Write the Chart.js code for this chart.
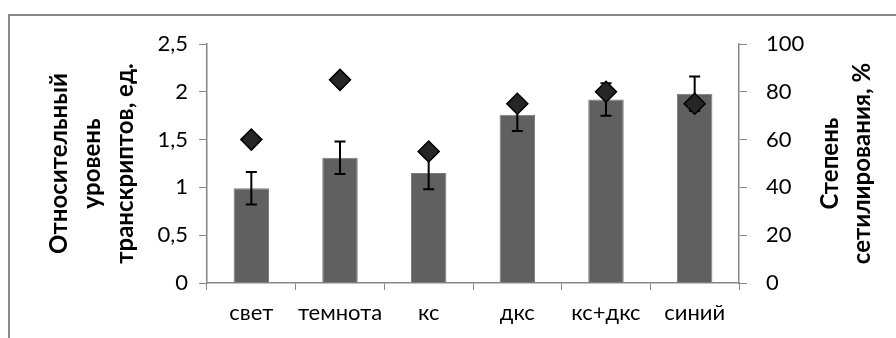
<!DOCTYPE html>
<html>
<head>
<meta charset="utf-8">
<script src="https://cdn.jsdelivr.net/npm/chart.js@4/dist/chart.umd.min.js"></script>
<style>
html,body{margin:0;padding:0;background:#fff;}
#wrap{width:896px;height:338px;position:relative;overflow:hidden;}
</style>
</head>
<body>
<div id="wrap"><canvas id="c" width="896" height="338"></canvas></div>
<script>
const categories = ['свет', 'темнота', 'кс', 'дкс', 'кс+дкс', 'синий'];
const transcriptLevels = [0.99, 1.31, 1.15, 1.76, 1.92, 1.98];
const transcriptErrors = [0.17, 0.17, 0.17, 0.17, 0.17, 0.18];
const methylationDegree = [60, 85, 55, 75, 80, 75];
const leftTitle = ['Относительный', 'уровень', 'транскриптов, ед.'];
const rightTitle = ['Степень', 'сетилирования, %'];

const FONT = 'Lato';
const AXIS_GREY = '#878787';

const bgBorder = {
  id: 'bgBorder',
  beforeDraw(chart) {
    const ctx = chart.ctx;
    ctx.save();
    ctx.fillStyle = '#fff';
    ctx.fillRect(0, 0, chart.width, chart.height);
    ctx.strokeStyle = '#888888';
    ctx.lineWidth = 2;
    ctx.strokeRect(9, 15, chart.width + 20, chart.height + 20);
    ctx.restore();
  }
};

const errorBars = {
  id: 'errorBars',
  afterDatasetDraw(chart, args) {
    if (args.index !== 0) return;
    const ctx = chart.ctx;
    const y = chart.scales.y;
    const meta = args.meta;
    ctx.save();
    ctx.strokeStyle = '#000';
    ctx.lineWidth = 2;
    meta.data.forEach((bar, i) => {
      const v = transcriptLevels[i], e = transcriptErrors[i];
      const x = bar.x;
      const yt = y.getPixelForValue(v + e);
      const yb = y.getPixelForValue(v - e);
      ctx.beginPath();
      ctx.moveTo(x, yt); ctx.lineTo(x, yb);
      ctx.moveTo(x - 5.5, yt); ctx.lineTo(x + 5.5, yt);
      ctx.moveTo(x - 5.5, yb); ctx.lineTo(x + 5.5, yb);
      ctx.stroke();
    });
    ctx.restore();
  }
};

const rightAxisTitle = {
  id: 'rightAxisTitle',
  afterDraw(chart) {
    const ctx = chart.ctx;
    const s = chart.scales.y1;
    const cy = (s.top + s.bottom) / 2;
    const xs = [831, 863];
    ctx.save();
    ctx.font = 'bold 24px ' + FONT;
    ctx.fillStyle = '#000';
    ctx.textAlign = 'center';
    ctx.textBaseline = 'middle';
    rightTitle.forEach((t, i) => {
      ctx.save();
      ctx.translate(xs[i] - 1, cy);
      ctx.rotate(-Math.PI / 2);
      ctx.fillText(t, 0, 0);
      ctx.restore();
    });
    ctx.restore();
  }
};

new Chart(document.getElementById('c'), {
  data: {
    labels: categories,
    datasets: [
      {
        type: 'bar',
        data: transcriptLevels,
        yAxisID: 'y',
        backgroundColor: '#606060',
        borderColor: '#7a7a7a',
        borderWidth: 1,
        barPercentage: 0.4,
        categoryPercentage: 1,
        order: 2
      },
      {
        type: 'line',
        data: methylationDegree,
        yAxisID: 'y1',
        showLine: false,
        pointStyle: 'rectRot',
        pointRadius: 10.5,
        pointBackgroundColor: '#262626',
        pointBorderColor: '#000',
        pointBorderWidth: 1.5,
        order: 1
      }
    ]
  },
  options: {
    responsive: false,
    animation: false,
    devicePixelRatio: 1,
    layout: { padding: { top: 44, left: 0, right: 0, bottom: 0 } },
    plugins: { legend: { display: false }, tooltip: { enabled: false } },
    scales: {
      x: {
        grid: { display: true, drawOnChartArea: false, tickLength: 7, color: AXIS_GREY, offset: true },
        border: { color: AXIS_GREY, width: 1.5 },
        ticks: { color: '#000', font: { family: FONT, size: 22 }, padding: 10, maxRotation: 0 },
        afterFit(s) { s.height = 55; }
      },
      y: {
        position: 'left',
        min: 0, max: 2.5,
        ticks: {
          stepSize: 0.5, color: '#000', padding: 11,
          font: { family: FONT, size: 22 },
          callback: v => String(v).replace('.', ',')
        },
        grid: { display: true, drawOnChartArea: false, tickLength: 8, color: AXIS_GREY },
        border: { color: AXIS_GREY, width: 1.5 },
        title: {
          display: true,
          text: leftTitle,
          color: '#000',
          font: { family: FONT, size: 24, weight: 'bold', lineHeight: '33px' },
          padding: { top: 43, bottom: 0 }
        },
        afterFit(s) { s.width = 207; }
      },
      y1: {
        position: 'right',
        min: 0, max: 100,
        ticks: { stepSize: 20, color: '#000', padding: 19, font: { family: FONT, size: 22 } },
        grid: { display: true, drawOnChartArea: false, tickLength: 8, color: AXIS_GREY },
        border: { color: AXIS_GREY, width: 1.5 },
        afterFit(s) { s.width = 157; }
      }
    }
  },
  plugins: [bgBorder, errorBars, rightAxisTitle]
});
</script>
</body>
</html>
